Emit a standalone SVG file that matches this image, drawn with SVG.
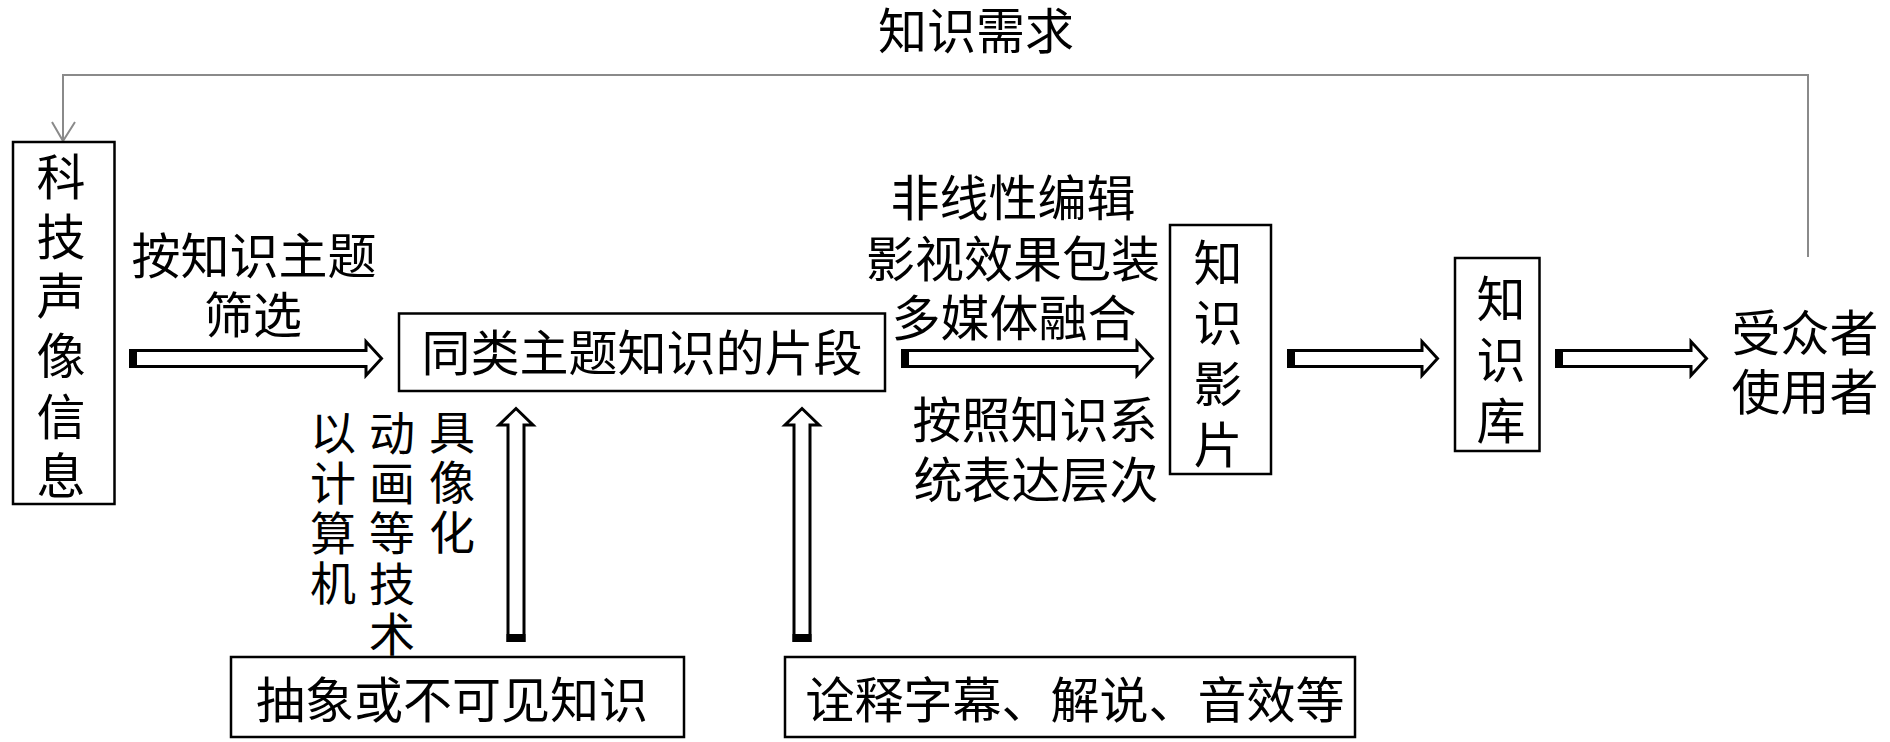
<svg xmlns="http://www.w3.org/2000/svg" width="1890" height="742" viewBox="0 0 1890 742">
<style>
text{font-family:"Noto Sans CJK SC","Noto Sans CJK JP",sans-serif;font-size:49px;fill:#000;text-anchor:middle}
.col{font-size:46px}
.box{fill:#fff;stroke:#000;stroke-width:2.5}
.blk{fill:#fff;stroke:#000;stroke-width:3;stroke-linejoin:miter}
.tail{fill:#000}
.fb{fill:none;stroke:#8a8a8a;stroke-width:2}
</style>
<rect width="1890" height="742" fill="#fff"/>
<g id="connectors">
  <g id="feedback">
    <polyline class="fb" points="1808,257 1808,75 63,75 63,141"/>
    <polyline class="fb" points="52,122 63,141 75,122"/>
  </g>
  <g id="arrow1">
    <path class="blk" d="M130.5,350.5 L366,350.5 L366,341.5 L381.5,358.5 L366,375.5 L366,366.5 L130.5,366.5 Z"/>
    <rect class="tail" x="129" y="349" width="8" height="19"/>
  </g>
  <g id="arrow2">
    <path class="blk" d="M902.5,350.5 L1137,350.5 L1137,341.5 L1152.5,358.5 L1137,375.5 L1137,366.5 L902.5,366.5 Z"/>
    <rect class="tail" x="901" y="349" width="8" height="19"/>
  </g>
  <g id="arrow3">
    <path class="blk" d="M1288.5,350.5 L1422,350.5 L1422,341.5 L1437.5,358.5 L1422,375.5 L1422,366.5 L1288.5,366.5 Z"/>
    <rect class="tail" x="1287" y="349" width="8" height="19"/>
  </g>
  <g id="arrow4">
    <path class="blk" d="M1556.5,350.5 L1691,350.5 L1691,341.5 L1706.5,358.5 L1691,375.5 L1691,366.5 L1556.5,366.5 Z"/>
    <rect class="tail" x="1555" y="349" width="8" height="19"/>
  </g>
  <g id="arrow5">
    <path class="blk" d="M508,640.5 L508,425 L499,425 L516,408.5 L533,425 L524,425 L524,640.5 Z"/>
    <rect class="tail" x="506.5" y="634" width="19" height="8"/>
  </g>
  <g id="arrow6">
    <path class="blk" d="M794,640.5 L794,425 L785,425 L802,408.5 L819,425 L810,425 L810,640.5 Z"/>
    <rect class="tail" x="792.5" y="634" width="19" height="8"/>
  </g>
</g>
<g id="label-demand"><text x="976" y="49">知识需求</text></g>
<g id="node-source">
  <rect class="box" x="13" y="142" width="101.5" height="362"/>
  <text><tspan x="61" y="195">科</tspan><tspan x="61" y="255">技</tspan><tspan x="61" y="314">声</tspan><tspan x="61" y="374">像</tspan><tspan x="61" y="435">信</tspan><tspan x="61" y="494">息</tspan></text>
</g>
<g id="label-filter">
  <text x="254" y="274">按知识主题</text>
  <text x="253" y="333">筛选</text>
</g>
<g id="node-fragments">
  <rect class="box" x="399" y="313.5" width="486" height="77.5"/>
  <text x="642" y="371">同类主题知识的片段</text>
</g>
<g id="label-visual">
  <text class="col"><tspan x="333" y="449">以</tspan><tspan x="333" y="500">计</tspan><tspan x="333" y="550">算</tspan><tspan x="333" y="600">机</tspan></text>
  <text class="col"><tspan x="392" y="450">动</tspan><tspan x="392" y="500">画</tspan><tspan x="392" y="550">等</tspan><tspan x="392" y="601">技</tspan><tspan x="392" y="651">术</tspan></text>
  <text class="col"><tspan x="452" y="449">具</tspan><tspan x="452" y="499">像</tspan><tspan x="452" y="549">化</tspan></text>
</g>
<g id="node-abstract">
  <rect class="box" x="231" y="657" width="453" height="80"/>
  <text x="452" y="718">抽象或不可见知识</text>
</g>
<g id="node-caption">
  <rect class="box" x="785" y="657" width="570" height="80"/>
  <text x="1075" y="718">诠释字幕、解说、音效等</text>
</g>
<g id="label-edit">
  <text x="1013" y="216">非线性编辑</text>
  <text x="1013" y="277">影视效果包装</text>
  <text x="1014" y="336">多媒体融合</text>
</g>
<g id="label-system">
  <text x="1035" y="438">按照知识系</text>
  <text x="1036" y="498">统表达层次</text>
</g>
<g id="node-film">
  <rect class="box" x="1170" y="225" width="101" height="249"/>
  <text><tspan x="1218" y="281">知</tspan><tspan x="1218" y="341">识</tspan><tspan x="1218" y="402">影</tspan><tspan x="1218" y="463">片</tspan></text>
</g>
<g id="node-library">
  <rect class="box" x="1455" y="258" width="84.5" height="193"/>
  <text><tspan x="1501" y="317">知</tspan><tspan x="1501" y="378">识</tspan><tspan x="1501" y="439">库</tspan></text>
</g>
<g id="node-users">
  <text x="1805" y="351">受众者</text>
  <text x="1805" y="410">使用者</text>
</g>
</svg>
